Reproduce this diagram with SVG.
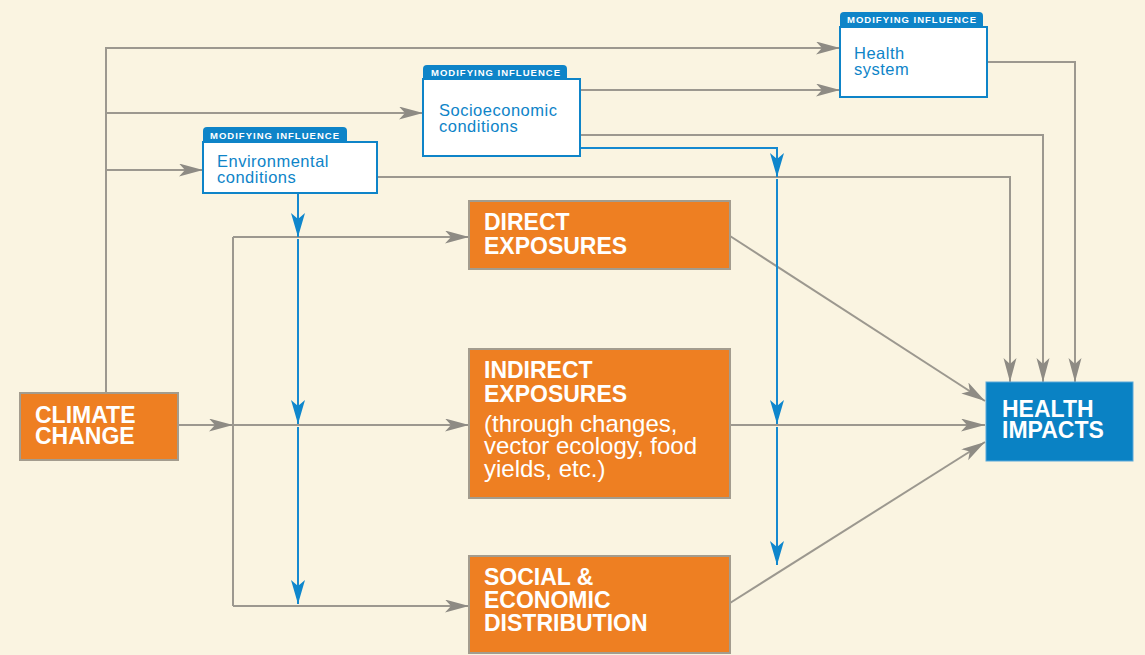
<svg xmlns="http://www.w3.org/2000/svg" width="1145" height="655" viewBox="0 0 1145 655">
  <defs>
    <marker id="arrGray" markerUnits="userSpaceOnUse" markerWidth="26" markerHeight="14" refX="24" refY="6.5" orient="auto">
      <path d="M0,0 L24,6.5 L0,13 L6,6.5 Z" fill="#8E8B84"/>
    </marker>
    <marker id="arrBlue" markerUnits="userSpaceOnUse" markerWidth="26" markerHeight="16" refX="24" refY="7" orient="auto">
      <path d="M0,0 L24,7 L0,14 L6,7 Z" fill="#0E86CC"/>
    </marker>
    <style>
      .gray { fill: none; stroke: #9C988F; stroke-width: 2; }
      .blue { fill: none; stroke: #1589D0; stroke-width: 2; }
      .ga { marker-end: url(#arrGray); }
      .ba { marker-end: url(#arrBlue); }
      .orange { fill: #EE7F22; stroke: #A39C8E; stroke-width: 2; }
      .impact { fill: #0A82C4; stroke: #5AA8DA; stroke-width: 1; }
      .modbox { fill: #FFFFFF; stroke: #0E84C8; stroke-width: 2; }
      .tab { fill: #0E84C8; }
      .big { font-family: "Liberation Sans", Arial, sans-serif; font-weight: bold; font-size: 23px; fill: #FFFFFF; }
      .sub { font-family: "Liberation Sans", Arial, sans-serif; font-weight: normal; font-size: 24px; fill: #FFFFFF; }
      .tabtext { font-family: "Liberation Sans", Arial, sans-serif; font-weight: bold; font-size: 9.5px; fill: #FFFFFF; }
      .modtext { font-family: "Liberation Sans", Arial, sans-serif; font-size: 16.5px; letter-spacing: 0.5px; fill: #0E84C8; }
    </style>
  </defs>

  <rect x="0" y="0" width="1145" height="655" fill="#FAF4E1"/>

  <!-- connectors -->
  <g id="connectors">
    <!-- climate change feeds the modifying influences -->
    <path class="gray ga" d="M106,393 V48 H840"/>
    <path class="gray ga" d="M107,113 H423"/>
    <path class="gray ga" d="M107,170 H203"/>
    <!-- climate change to exposure pathways -->
    <path class="gray ga" d="M178,425 H233"/>
    <path class="gray" d="M233,237 V606"/>
    <path class="gray ga" d="M233,425 H469"/>
    <path class="gray ga" d="M233,237 H469"/>
    <path class="gray ga" d="M233,606 H469"/>
    <!-- socioeconomic conditions to health system -->
    <path class="gray ga" d="M580,90 H840"/>
    <!-- modifying influences to health impacts -->
    <path class="gray ga" d="M987,62 H1075 V382"/>
    <path class="gray ga" d="M580,135 H1043 V382"/>
    <path class="gray ga" d="M377,177 H1010 V382"/>
    <!-- exposure pathways to health impacts -->
    <path class="gray ga" d="M730,236 L985,401"/>
    <path class="gray ga" d="M730,425 H985"/>
    <path class="gray ga" d="M730,603 L985,442"/>
    <!-- environmental conditions modifying the pathways -->
    <path class="blue ba" d="M298,193 V237"/>
    <path class="blue ba" d="M298,239 V424"/>
    <path class="blue ba" d="M298,427 V604"/>
    <!-- socioeconomic conditions modifying the pathways -->
    <path class="blue ba" d="M580,148 H777 V177"/>
    <path class="blue ba" d="M777,179 V424"/>
    <path class="blue ba" d="M777,427 V565"/>
  </g>

  <g id="climate-change">
    <rect class="orange" x="20" y="393" width="158" height="67"/>
    <text class="big" x="35" y="423">CLIMATE<tspan x="35" dy="21">CHANGE</tspan></text>
  </g>

  <g id="environmental-conditions">
    <path class="tab" d="M203,142 V131 Q203,127 207,127 H343 Q347,127 347,131 V142 Z"/>
    <text class="tabtext" x="210" y="139" textLength="129" lengthAdjust="spacing">MODIFYING INFLUENCE</text>
    <rect class="modbox" x="203" y="142" width="174" height="51"/>
    <text class="modtext" x="217" y="167">Environmental<tspan x="217" dy="16">conditions</tspan></text>
  </g>

  <g id="socioeconomic-conditions">
    <path class="tab" d="M423,79 V69 Q423,65 427,65 H563 Q567,65 567,69 V79 Z"/>
    <text class="tabtext" x="431" y="76" textLength="129" lengthAdjust="spacing">MODIFYING INFLUENCE</text>
    <rect class="modbox" x="423" y="79" width="157" height="77"/>
    <text class="modtext" x="439" y="116">Socioeconomic<tspan x="439" dy="16">conditions</tspan></text>
  </g>

  <g id="health-system">
    <path class="tab" d="M840,27 V16 Q840,12 844,12 H979 Q983,12 983,16 V27 Z"/>
    <text class="tabtext" x="847" y="23" textLength="129" lengthAdjust="spacing">MODIFYING INFLUENCE</text>
    <rect class="modbox" x="840" y="27" width="147" height="70"/>
    <text class="modtext" x="854" y="59">Health<tspan x="854" dy="16">system</tspan></text>
  </g>

  <g id="direct-exposures">
    <rect class="orange" x="469" y="201" width="261" height="68"/>
    <text class="big" x="484" y="230">DIRECT<tspan x="484" dy="24">EXPOSURES</tspan></text>
  </g>

  <g id="indirect-exposures">
    <rect class="orange" x="469" y="349" width="261" height="149"/>
    <text class="big" x="484" y="378">INDIRECT<tspan x="484" dy="24">EXPOSURES</tspan><tspan class="sub" x="484" dy="30">(through changes,</tspan><tspan class="sub" x="484" dy="22">vector ecology, food</tspan><tspan class="sub" x="484" dy="23">yields, etc.)</tspan></text>
  </g>

  <g id="social-economic-distribution">
    <rect class="orange" x="469" y="556" width="261" height="97"/>
    <text class="big" x="484" y="585">SOCIAL &amp;<tspan x="484" dy="23">ECONOMIC</tspan><tspan x="484" dy="23">DISTRIBUTION</tspan></text>
  </g>

  <g id="health-impacts">
    <rect class="impact" x="986" y="382" width="147" height="79"/>
    <text class="big" x="1002" y="417">HEALTH<tspan x="1002" dy="21">IMPACTS</tspan></text>
  </g>
</svg>
